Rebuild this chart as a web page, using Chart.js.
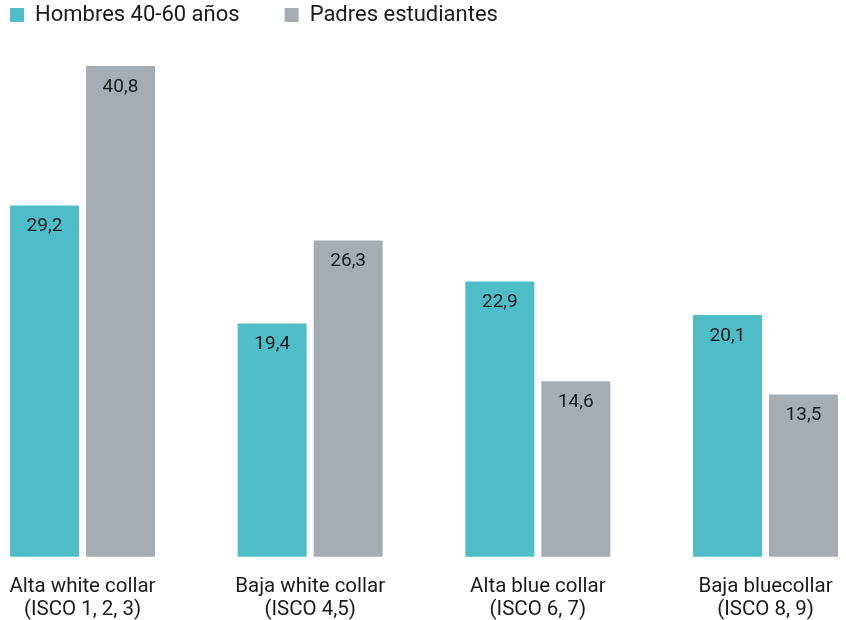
<!DOCTYPE html>
<html>
<head>
<meta charset="utf-8">
<script src="https://cdn.jsdelivr.net/npm/chart.js@4.4.1/dist/chart.umd.min.js"></script>
<style>
  html, body { margin: 0; padding: 0; background: #ffffff; }
  #wrap { width: 846px; height: 620px; position: relative; }
</style>
</head>
<body>
<div id="wrap"><canvas id="c"></canvas></div>
<script>
const categories = [
  ["Alta white collar", "(ISCO 1, 2, 3)"],
  ["Baja white collar", "(ISCO 4,5)"],
  ["Alta blue collar", "(ISCO 6, 7)"],
  ["Baja bluecollar", "(ISCO 8, 9)"]
];
const hombres = [29.2, 19.4, 22.9, 20.1];
const padres = [40.8, 26.3, 14.6, 13.5];
const seriesNames = ["Hombres 40-60 años", "Padres estudiantes"];

const TEXT = "#1a1a1a";
const FONT = "Roboto, 'Liberation Sans', sans-serif";

const valueLabels = {
  id: "valueLabels",
  afterDatasetsDraw(chart) {
    const ctx = chart.ctx;
    ctx.save();
    ctx.font = "19px " + FONT;
    ctx.fillStyle = TEXT;
    ctx.textAlign = "center";
    ctx.textBaseline = "middle";
    chart.data.datasets.forEach((ds, di) => {
      const meta = chart.getDatasetMeta(di);
      meta.data.forEach((bar, i) => {
        const txt = ds.data[i].toFixed(1).replace(".", ",");
        ctx.fillText(txt, bar.x, bar.y + 21);
      });
    });
    ctx.restore();
  }
};

new Chart(document.getElementById("c"), {
  type: "bar",
  data: {
    labels: categories,
    datasets: [
      { label: seriesNames[0], data: hombres, backgroundColor: "#4fbdc8", clip: false,
        borderWidth: 0, categoryPercentage: 0.6676, barPercentage: 0.908 },
      { label: seriesNames[1], data: padres, backgroundColor: "#a5adb3", clip: false,
        borderWidth: 0, categoryPercentage: 0.6676, barPercentage: 0.908 }
    ]
  },
  options: {
    responsive: true,
    maintainAspectRatio: false,
    animation: false,
    layout: { padding: { left: -35, right: 80.5, top: -41, bottom: -20 } },
    plugins: {
      legend: {
        position: "top",
        align: "start",
        labels: {
          boxWidth: 14, boxHeight: 14, padding: 45,
          color: TEXT,
          font: { family: FONT, size: 22 }
        }
      },
      tooltip: { enabled: false },
      title: { display: false }
    },
    scales: {
      x: {
        offset: false,
        grid: { display: false, drawTicks: false },
        border: { display: false },
        ticks: {
          color: TEXT, padding: 18, maxRotation: 0, autoSkip: false,
          font: { family: FONT, size: 20.5, lineHeight: 1.15 }
        },
        afterFit(s) { s.paddingLeft = 0; s.paddingRight = 0; }
      },
      y: {
        min: 0, max: 43.30,
        grid: { display: false, drawTicks: false },
        border: { display: false },
        ticks: { display: false },
        afterFit(s) { s.width = 117.5; }
      }
    }
  },
  plugins: [valueLabels]
});
</script>
</body>
</html>
